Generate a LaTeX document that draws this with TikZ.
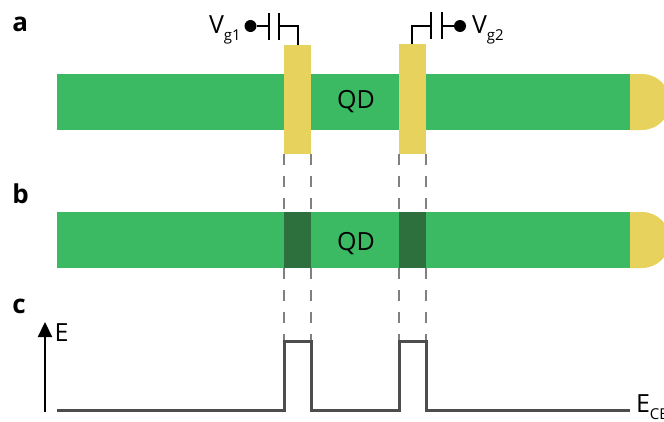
\documentclass[tikz,border=0pt]{standalone}
\usepackage{fontspec}
\setmainfont{Open Sans}
\usetikzlibrary{arrows.meta}
\definecolor{barG}{HTML}{3CB963}
\definecolor{gateY}{HTML}{E8D25E}
\definecolor{darkG}{HTML}{2D6F3D}
\definecolor{bandC}{HTML}{4D4D4D}
\definecolor{dashC}{HTML}{808080}
\newcommand{\subtxt}[1]{\raisebox{-7.5pt}{\fontsize{15}{15}\selectfont #1}}
\tikzset{
  x=1pt,y=-1pt,
  blockbox/.style={anchor=north west,inner sep=0pt,outer sep=0pt,minimum width=#1},
  barbox/.style={blockbox=573pt,minimum height=56pt,fill=barG},
  gatebox/.style={blockbox=27pt,fill=gateY},
  darkbox/.style={blockbox=27pt,minimum height=56pt,fill=darkG},
  lbl/.style={inner sep=0pt,outer sep=0pt,font=\fontsize{25}{25}\selectfont,text=black},
  panel/.style={inner sep=0pt,outer sep=0pt,anchor=base west,font=\fontsize{26}{26}\selectfont\bfseries},
  wire/.style={draw=black,line width=1.7pt},
  dot/.style={circle,fill=black,inner sep=0pt,outer sep=0pt,minimum size=12pt},
  guide/.style={draw=dashC,line width=1.6pt,dash pattern=on 11pt off 11pt},
  band/.style={draw=bandC,line width=3pt,miter limit=10}
}
\begin{document}
\begin{tikzpicture}
\useasboundingbox (0,0) rectangle (664,421);
\clip (0,0) rectangle (664,421);
% bars
\node[barbox] (barA) at (57,74) {};
\node[barbox] (barB) at (57,212) {};
% contacts
\fill[gateY] (630,74) -- (642,74) arc[start angle=-90,end angle=90,radius=28] -- (630,130) -- cycle;
\fill[gateY] (630,212) -- (642,212) arc[start angle=-90,end angle=90,radius=28] -- (630,268) -- cycle;
% gates
\node[gatebox,minimum height=109pt] (gA) at (284,45) {};
\node[gatebox,minimum height=110pt] (gB) at (399,44) {};
\node[darkbox] (dA) at (284,212) {};
\node[darkbox] (dB) at (399,212) {};
\node[lbl,anchor=base] (qdA) at (356,108.5) {QD};
\node[lbl,anchor=base] (qdB) at (356,250) {QD};
% dashed guides
\coordinate (tA1) at (284,341);
\coordinate (tA2) at (311,341);
\coordinate (tB1) at (399,341);
\coordinate (tB2) at (426,341);
\draw[guide] (gA.south west) -- (dA.north west);
\draw[guide] (gA.south east) -- (dA.north east);
\draw[guide] (gB.south west) -- (dB.north west);
\draw[guide] (gB.south east) -- (dB.north east);
\draw[guide] (dA.south west) -- (tA1);
\draw[guide] (dA.south east) -- (tA2);
\draw[guide] (dB.south west) -- (tB1);
\draw[guide] (dB.south east) -- (tB2);
% band profile
\coordinate (bS) at (57,410);
\coordinate (bE) at (630,410);
\draw[band] (bS) -- (284,410) -- (tA1) -- (tA2) -- (311,410) -- (399,410) -- (tB1) -- (tB2) -- (426,410) -- (bE);
% axis
\coordinate (aS) at (45,412);
\coordinate (aE) at (45,322);
\draw[draw=black,line width=2.2pt,-{Triangle[length=15pt,width=14pt]}] (aS) -- (aE);
\node[lbl,anchor=base west] (eLbl) at (54.5,341) {E};
\node[lbl,anchor=base west] (ecb) at (636,412) {E\subtxt{CB}};
% panel letters
\node[panel] (pa) at (12.5,31.5) {a};
\node[panel] (pb) at (12.5,203) {b};
\node[panel] (pc) at (12.5,313) {c};
% gate circuits
\node[dot] (d1) at (250.5,26) {};
\node[dot] (d2) at (460,26) {};
\coordinate (p1a) at (269,26);
\coordinate (p1b) at (279,26);
\coordinate (p2a) at (431,26);
\coordinate (p2b) at (442,26);
\coordinate (g1t) at (298,45);
\coordinate (g2t) at (412,44);
\draw[wire] (d1) -- (p1a);
\draw[wire] (269,13) -- (269,40);
\draw[wire] (279,13) -- (279,40);
\draw[wire] (p1b) -| (g1t);
\draw[wire] (g2t) |- (p2a);
\draw[wire] (431,12) -- (431,39);
\draw[wire] (442,12) -- (442,39);
\draw[wire] (p2b) -- (d2);
\node[lbl,anchor=base west] (vg1) at (209,33) {V\subtxt{g1}};
\node[lbl,anchor=base west] (vg2) at (472,33) {V\subtxt{g2}};
\end{tikzpicture}
\end{document}
